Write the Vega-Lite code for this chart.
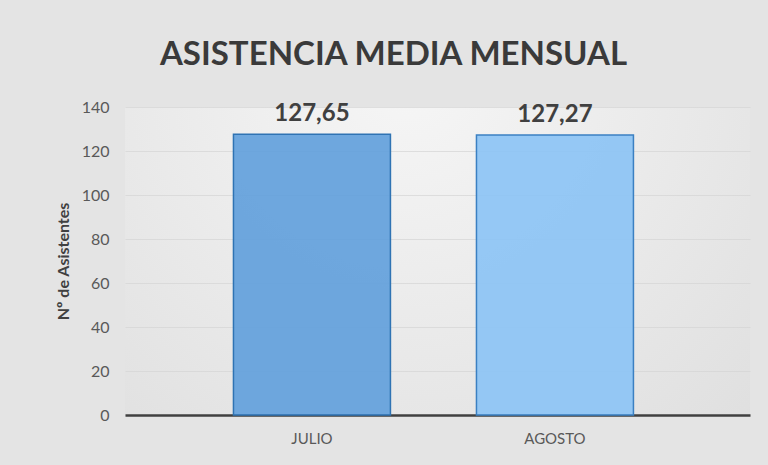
{
  "$schema": "https://vega.github.io/schema/vega-lite/v6.json",
  "width": 625,
  "height": 308,
  "autosize": {"type": "none"},
  "padding": {"left": 125, "top": 107, "right": 18, "bottom": 50},
  "background": "#e4e4e4",
  "config": {
    "locale": {"number": {"decimal": ",", "thousands": ".", "grouping": [3], "currency": ["", " €"]}},
    "view": {
      "stroke": null,
      "fill": {
        "gradient": "radial",
        "x1": 0.45, "y1": 0.2, "r1": 0,
        "x2": 0.45, "y2": 0.2, "r2": 0.9,
        "stops": [
          {"offset": 0, "color": "#f6f6f6"},
          {"offset": 1, "color": "#dcdcdc"}
        ]
      }
    },
    "font": "Lato"
  },
  "title": {
    "text": "ASISTENCIA MEDIA MENSUAL",
    "fontSize": 33,
    "fontWeight": "bold",
    "color": "#3a3a3a",
    "font": "Lato",
    "anchor": "middle",
    "dx": -44,
    "offset": 27
  },
  "data": {
    "values": [
      {"mes": "JULIO", "asistentes": 127.65},
      {"mes": "AGOSTO", "asistentes": 127.27}
    ]
  },
  "encoding": {
    "x": {
      "field": "mes",
      "type": "nominal",
      "sort": null,
      "scale": {"paddingInner": 0.354, "paddingOuter": 0.463, "align": 0.482},
      "axis": {
        "title": null,
        "labelAngle": 0,
        "labelFontSize": 15,
        "labelColor": "#595959",
        "labelPadding": 16,
        "ticks": false,
        "domainColor": "#404040",
        "domainWidth": 2.5,
        "grid": false
      }
    },
    "y": {
      "field": "asistentes",
      "type": "quantitative",
      "scale": {"domain": [0, 140]},
      "axis": {
        "title": "Nº de Asistentes",
        "titleFontSize": 16,
        "titleFontWeight": "bold",
        "titleColor": "#404040",
        "titlePadding": 10,
        "values": [0, 20, 40, 60, 80, 100, 120, 140],
        "labelFontSize": 16,
        "labelColor": "#595959",
        "labelPadding": 16,
        "ticks": false,
        "domain": false,
        "gridColor": "#d4d4d4",
        "gridOpacity": 0.7
      }
    }
  },
  "layer": [
    {
      "mark": {"type": "bar", "strokeWidth": 1.5, "fillOpacity": 0.9},
      "encoding": {
        "color": {
          "field": "mes",
          "type": "nominal",
          "scale": {"domain": ["JULIO", "AGOSTO"], "range": ["#5f9fdb", "#8bc3f5"]},
          "legend": null
        },
        "stroke": {
          "field": "mes",
          "type": "nominal",
          "scale": {"domain": ["JULIO", "AGOSTO"], "range": ["#2f73b3", "#3b80c2"]},
          "legend": null
        }
      }
    },
    {
      "mark": {"type": "text", "dy": -20, "fontSize": 24, "fontWeight": "bold", "color": "#404040"},
      "encoding": {
        "text": {"field": "asistentes", "type": "quantitative", "format": ".2f"}
      }
    }
  ]
}
